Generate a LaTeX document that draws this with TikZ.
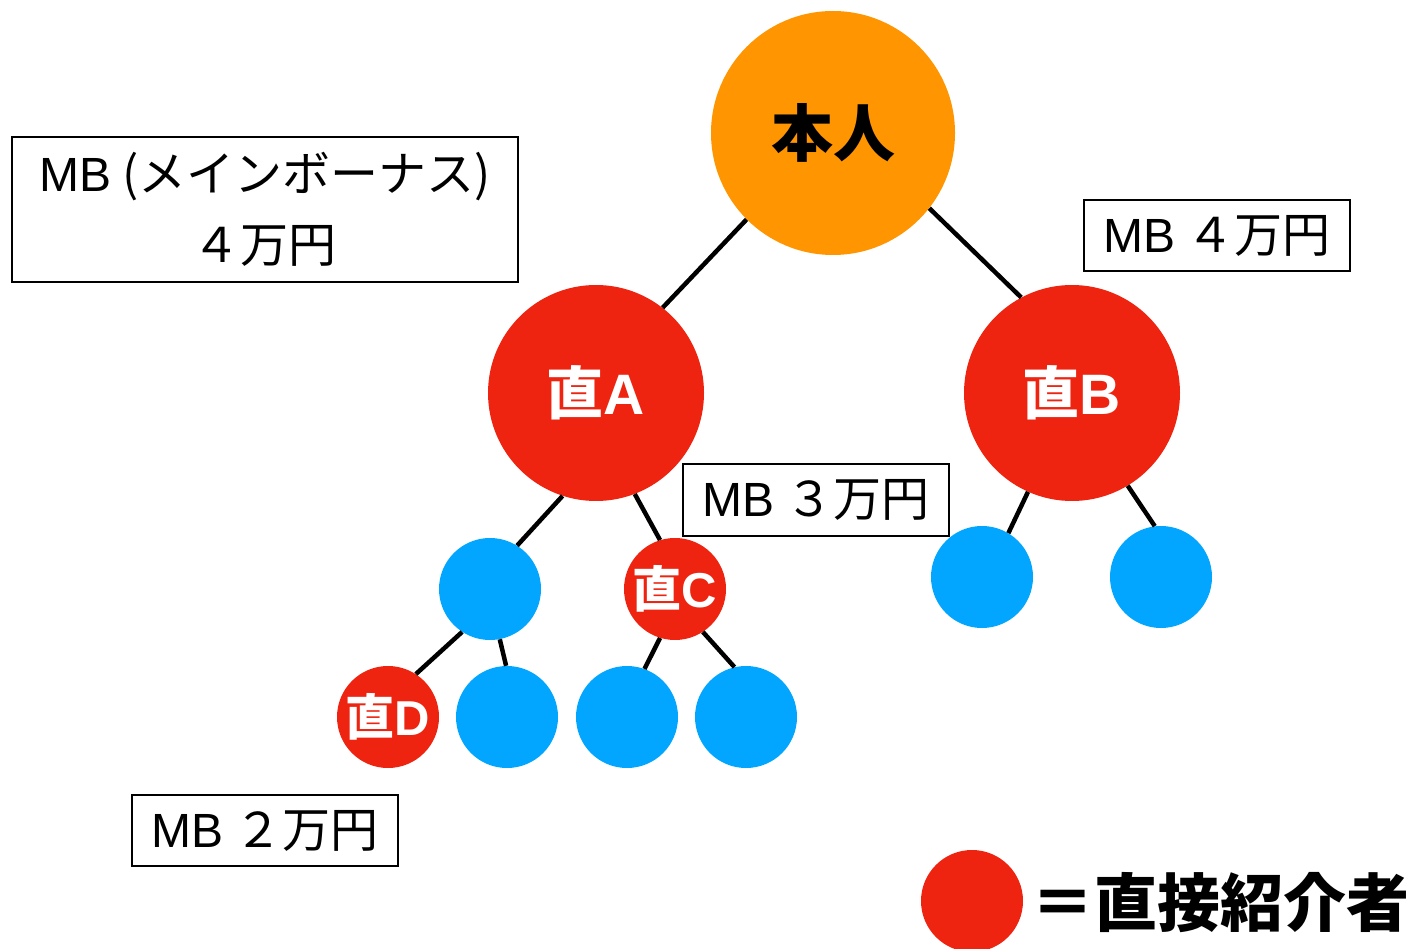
\documentclass[tikz,border=0pt]{standalone}
\usepackage{fontspec}
\setmainfont{Noto Sans CJK JP}
\newfontfamily\latinf{Liberation Sans}
\begin{document}
\begin{tikzpicture}[x=1pt,y=-1pt,
  dot/.style={circle,inner sep=0pt,minimum size=#1,text=white,font=\bfseries\fontsize{57}{57}\selectfont},
  redc/.style={fill=redn},
  bluec/.style={fill=bluen},
  mbbox/.style={draw=black,line width=2pt,inner sep=0pt,font=\fontsize{48}{71}\selectfont,align=center},
  link/.style={line width=4.5pt,black}]
\definecolor{orangen}{HTML}{FF9500}
\definecolor{redn}{HTML}{EE2411}
\definecolor{bluen}{HTML}{02A6FF}
\useasboundingbox (0,0) rectangle (1409,949);
% nodes
\node[dot=244pt,fill=orangen,text=black,font=\bfseries\fontsize{62}{62}\selectfont] (top) at (833,133) {本人};
\node[dot=216pt,redc] (A) at (596,393) {直{\latinf A}};
\node[dot=216pt,redc] (B) at (1072,393) {直{\latinf B}};
\node[dot=102pt,bluec] (b1) at (490,589) {};
\node[dot=102pt,redc,font=\bfseries\fontsize{49}{49}\selectfont] (C) at (675,589) {直{\latinf C}};
\node[dot=102pt,bluec] (b3) at (982,577) {};
\node[dot=102pt,bluec] (b4) at (1161,577) {};
\node[dot=102pt,redc,font=\bfseries\fontsize{49}{49}\selectfont] (D) at (388,717) {直{\latinf D}};
\node[dot=102pt,bluec] (b5) at (507,717) {};
\node[dot=102pt,bluec] (b6) at (627,717) {};
\node[dot=102pt,bluec] (b7) at (746,717) {};
% connectors
\draw[link] (top.225) -- (A.52);
\draw[link] (top.-38) -- (B.118);
\draw[link] (A.252) -- (b1.58);
\draw[link] (A.291) -- (C.107);
\draw[link] (B.246) -- (b3.59);
\draw[link] (B.301) -- (b4.97);
\draw[link] (b1.237) -- (D.57);
\draw[link] (b1.281) -- (b5.91);
\draw[link] (C.253) -- (b6.70);
\draw[link] (C.303) -- (b7.103);
% boxes
\node[mbbox,minimum width=506pt,minimum height=145pt] (mbmain) at (265,209.5) {{\latinf MB} (メインボーナス)\\４万円};
\node[mbbox,minimum width=266pt,minimum height=71pt] (mbB) at (1217,235.5) {{\latinf MB} ４万円};
\node[mbbox,minimum width=266pt,minimum height=72pt] (mbA) at (816,500) {{\latinf MB} ３万円};
\node[mbbox,minimum width=266pt,minimum height=71pt] (mbD) at (265,830.5) {{\latinf MB} ２万円};
% legend
\node[dot=102pt,redc] (leg) at (972,901) {};
\node[anchor=west,inner sep=0pt,font=\bfseries\fontsize{63}{63}\selectfont] (legt) at (1031,903) {＝直接紹介者};
\end{tikzpicture}
\end{document}
